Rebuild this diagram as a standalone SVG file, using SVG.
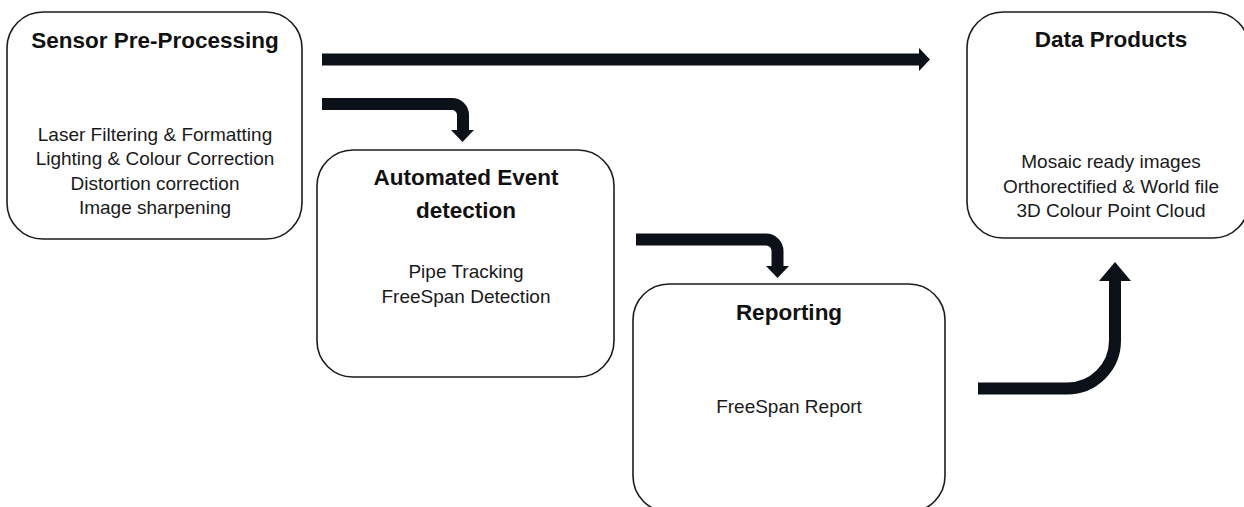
<svg xmlns="http://www.w3.org/2000/svg" width="1244" height="507" viewBox="0 0 1244 507">
  <style>
    .box { fill: #ffffff; stroke: #1c1c1c; stroke-width: 1.6; }
    .title { font-family: "Liberation Sans", Arial, sans-serif; font-weight: bold; font-size: 22.5px; fill: #111111; text-anchor: middle; }
    .body { font-family: "Liberation Sans", Arial, sans-serif; font-size: 19px; fill: #1a1a1a; text-anchor: middle; }
    .shaft { fill: none; stroke: #0c1018; stroke-width: 12; stroke-linecap: butt; }
    .head { fill: #0c1018; }
  </style>
  <rect width="1244" height="507" fill="#ffffff"/>

  <g id="connectors">
    <!-- Sensor Pre-Processing to Data Products -->
    <path class="shaft" d="M322,59.5 H920"/>
    <polygon class="head" points="919,48 930,59.5 919,71"/>
    <!-- Sensor Pre-Processing to Automated Event detection -->
    <path class="shaft" d="M322,104 H452 A11,11 0 0 1 463,115 V131"/>
    <polygon class="head" points="451,130 474,130 462.5,142"/>
    <!-- Automated Event detection to Reporting -->
    <path class="shaft" d="M636,239.5 H766 A11.5,11.5 0 0 1 777.5,251 V267"/>
    <polygon class="head" points="766,266 789,266 777.5,278"/>
    <!-- Reporting to Data Products -->
    <path class="shaft" d="M978,388.5 H1067 A48,48 0 0 0 1115,340.5 V280"/>
    <polygon class="head" points="1099,281 1131,281 1115,262"/>
  </g>

  <g id="sensor-pre-processing">
    <rect class="box" x="7" y="12" width="295" height="227" rx="36" ry="36"/>
    <text class="title" x="155" y="48">Sensor Pre-Processing</text>
    <text class="body" x="155" y="141">Laser Filtering &amp; Formatting</text>
    <text class="body" x="155" y="165">Lighting &amp; Colour Correction</text>
    <text class="body" x="155" y="190">Distortion correction</text>
    <text class="body" x="155" y="214">Image sharpening</text>
  </g>

  <g id="automated-event-detection">
    <rect class="box" x="317" y="150" width="297" height="227" rx="36" ry="36"/>
    <text class="title" x="466" y="185">Automated Event</text>
    <text class="title" x="466" y="218">detection</text>
    <text class="body" x="466" y="278">Pipe Tracking</text>
    <text class="body" x="466" y="303">FreeSpan Detection</text>
  </g>

  <g id="reporting">
    <rect class="box" x="633" y="284" width="312" height="228" rx="36" ry="36"/>
    <text class="title" x="789" y="320">Reporting</text>
    <text class="body" x="789" y="413">FreeSpan Report</text>
  </g>

  <g id="data-products">
    <rect class="box" x="967" y="12" width="282" height="226" rx="36" ry="36"/>
    <text class="title" x="1111" y="47">Data Products</text>
    <text class="body" x="1111" y="168">Mosaic ready images</text>
    <text class="body" x="1111" y="193">Orthorectified &amp; World file</text>
    <text class="body" x="1111" y="217">3D Colour Point Cloud</text>
  </g>
</svg>
